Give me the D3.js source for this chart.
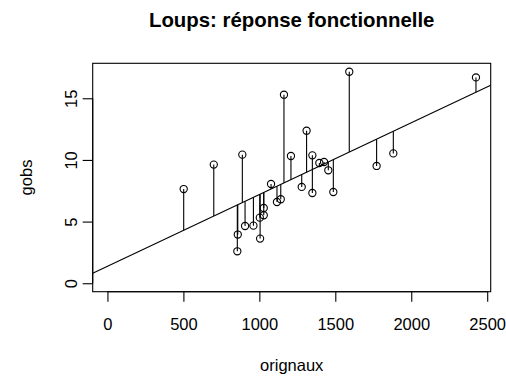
<!DOCTYPE html>
<html>
<head>
<meta charset="utf-8">
<script src="https://cdn.jsdelivr.net/npm/d3@7"></script>
<style>
  html, body { margin: 0; padding: 0; background: #fff; }
  text { font-family: "Liberation Sans", Arial, sans-serif; fill: #000; }
</style>
</head>
<body>
<svg id="chart" width="506" height="376"></svg>
<script>
// Data
const orignaux = [502, 700, 888, 855, 858, 906, 961, 1003, 1005, 1029, 1029, 1077, 1116, 1141, 1162,
                  1208, 1311, 1279, 1349, 1349, 1395, 1426, 1454, 1487, 1592, 1772, 1882, 2426];
const gobs     = [7.64, 9.62, 10.43, 2.59, 3.95, 4.64, 4.67, 5.32, 3.62, 5.51, 6.10, 8.05, 6.59, 6.81, 15.29,
                  10.32, 12.37, 7.81, 10.37, 7.32, 9.75, 9.83, 9.16, 7.40, 17.15, 9.51, 10.53, 16.69];
const fitCoef  = [1.37, 0.005821];   // intercept, slope of the fitted line
const xTicks   = [0, 500, 1000, 1500, 2000, 2500];
const yTicks   = [0, 5, 10, 15];
const titleText = "Loups: réponse fonctionnelle";
const xLabel = "orignaux";
const yLabel = "gobs";

(function () {
const svg = d3.select("#chart");
const pLeft = 92.7, pRight = 490.7, pTop = 63.3, pBottom = 291.7;

// R-style 4% expansion around data range
const xmin = 0, xmax = d3.max(orignaux);
const ymin = 0, ymax = d3.max(gobs);
const xpad = (xmax - xmin) * 0.04, ypad = (ymax - ymin) * 0.04;
const x = d3.scaleLinear().domain([xmin - xpad, xmax + xpad]).range([pLeft, pRight]);
const y = d3.scaleLinear().domain([ymin - ypad, ymax + ypad]).range([pBottom, pTop]);

const fit = v => fitCoef[0] + fitCoef[1] * v;

svg.append("clipPath").attr("id", "clip")
  .append("rect").attr("x", pLeft).attr("y", pTop).attr("width", pRight - pLeft).attr("height", pBottom - pTop);

// residual segments
svg.append("g").selectAll("line").data(d3.range(orignaux.length)).join("line")
  .attr("x1", i => x(orignaux[i])).attr("x2", i => x(orignaux[i]))
  .attr("y1", i => y(gobs[i])).attr("y2", i => y(fit(orignaux[i])))
  .attr("stroke", "#000").attr("stroke-width", 1.1);

// fitted line
const [dx0, dx1] = x.domain();
svg.append("line")
  .attr("clip-path", "url(#clip)")
  .attr("x1", x(dx0)).attr("y1", y(fit(dx0)))
  .attr("x2", x(dx1)).attr("y2", y(fit(dx1)))
  .attr("stroke", "#000").attr("stroke-width", 1.1);

// points
svg.append("g").selectAll("circle").data(d3.range(orignaux.length)).join("circle")
  .attr("cx", i => x(orignaux[i])).attr("cy", i => y(gobs[i]))
  .attr("r", 3.6).attr("fill", "none").attr("stroke", "#000").attr("stroke-width", 1.1);

// box
svg.append("rect").attr("x", pLeft).attr("y", pTop).attr("width", pRight - pLeft).attr("height", pBottom - pTop)
  .attr("fill", "none").attr("stroke", "#000").attr("stroke-width", 1.1);

// x axis
const xAxis = svg.append("g").attr("transform", `translate(0,${pBottom})`)
  .call(d3.axisBottom(x).tickValues(xTicks).tickSize(10).tickFormat(d3.format("d")));
xAxis.select(".domain").remove();
xAxis.append("line").attr("x1", x(xTicks[0])).attr("x2", x(xTicks[xTicks.length - 1]))
  .attr("stroke", "#000").attr("stroke-width", 1.1);
xAxis.selectAll(".tick line").attr("stroke-width", 1.1);
xAxis.selectAll(".tick text").attr("font-size", 16.5).attr("font-family", "Liberation Sans, Arial, sans-serif")
  .attr("dy", null).attr("y", 38.5);

// y axis
const yAxis = svg.append("g").attr("transform", `translate(${pLeft},0)`)
  .call(d3.axisLeft(y).tickValues(yTicks).tickSize(10).tickFormat(d3.format("d")));
yAxis.select(".domain").remove();
yAxis.append("line").attr("y1", y(yTicks[0])).attr("y2", y(yTicks[yTicks.length - 1]))
  .attr("stroke", "#000").attr("stroke-width", 1.1);
yAxis.selectAll(".tick line").attr("stroke-width", 1.1);
yAxis.selectAll(".tick text")
  .attr("font-size", 16.5).attr("font-family", "Liberation Sans, Arial, sans-serif")
  .attr("x", null).attr("dy", null).attr("text-anchor", "middle")
  .attr("transform", "translate(-16,0) rotate(-90)");

// title
svg.append("text").attr("x", (pLeft + pRight) / 2).attr("y", 27)
  .attr("text-anchor", "middle").attr("font-size", 20.4).attr("font-weight", "bold")
  .text(titleText);

// axis labels
svg.append("text").attr("x", (pLeft + pRight) / 2).attr("y", 371)
  .attr("text-anchor", "middle").attr("font-size", 16.5).text(xLabel);
svg.append("text").attr("transform", `translate(31.5,${(pTop + pBottom) / 2}) rotate(-90)`)
  .attr("text-anchor", "middle").attr("font-size", 16.5).text(yLabel);
})();
</script>
</body>
</html>
